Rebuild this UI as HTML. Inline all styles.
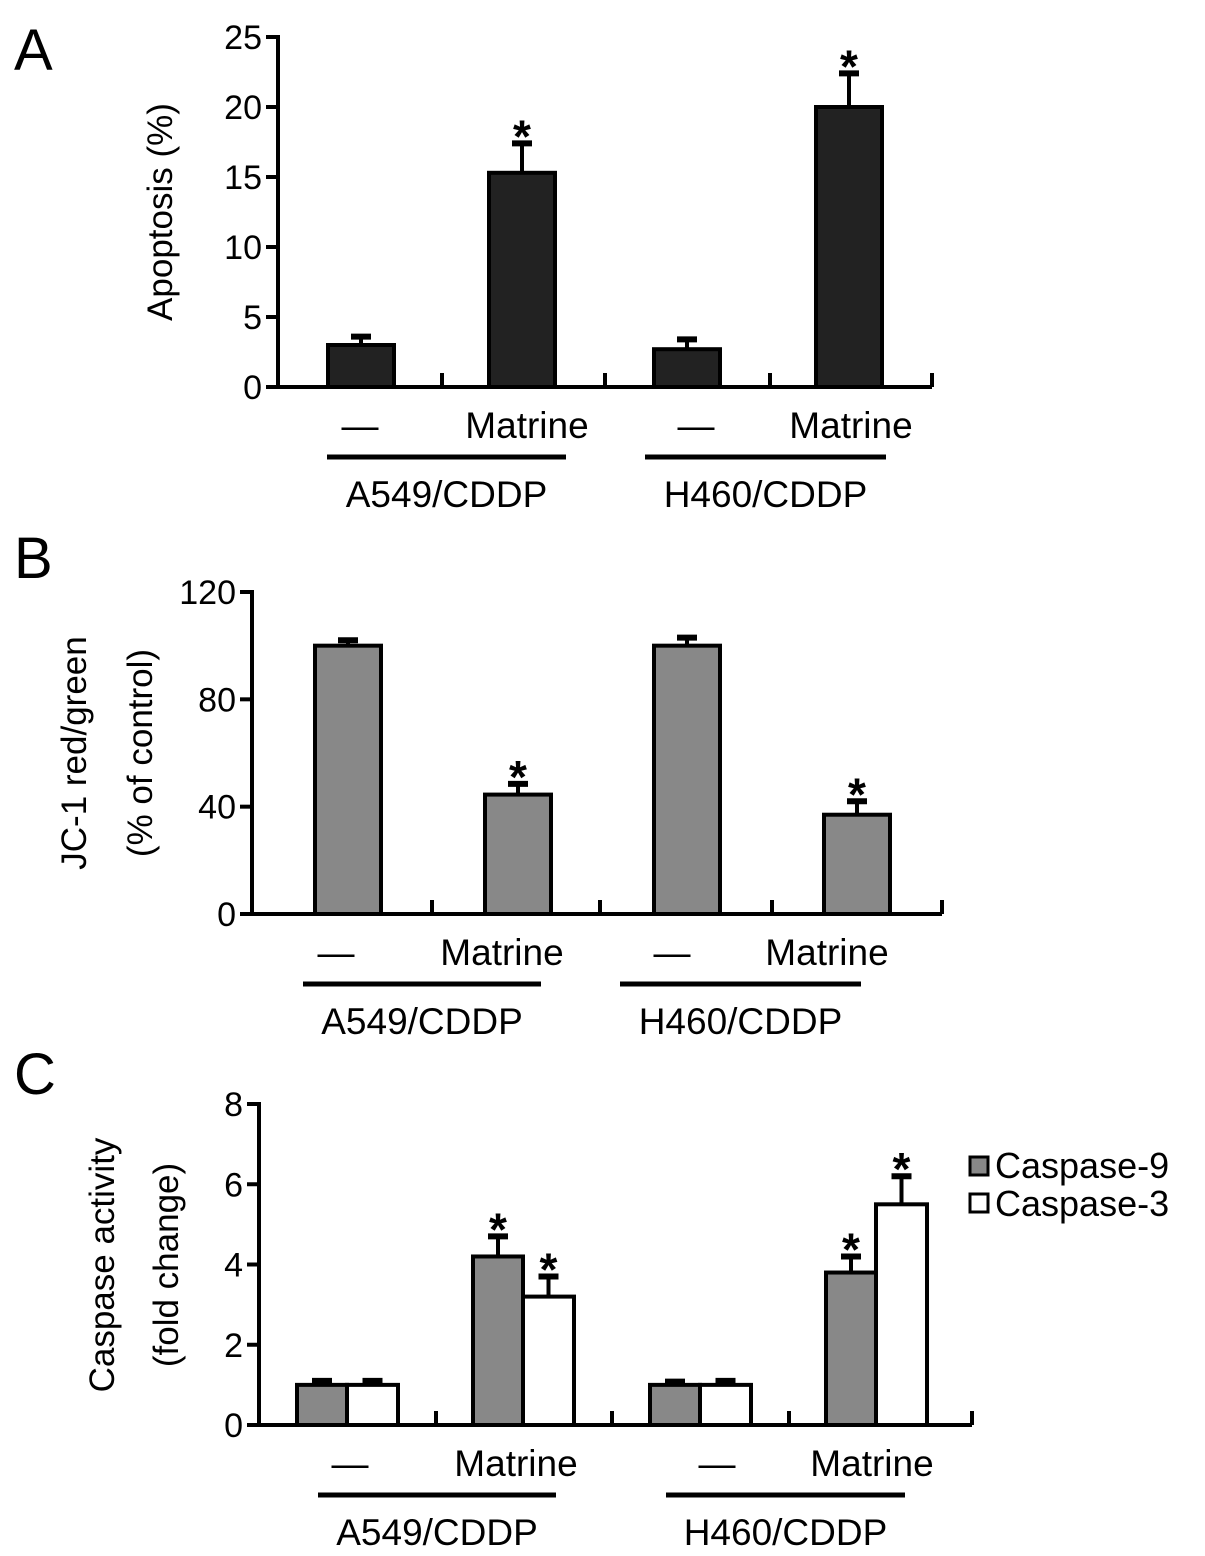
<!DOCTYPE html>
<html><head><meta charset="utf-8"><style>
body{margin:0;background:#fff}
svg{display:block;font-family:"Liberation Sans",Arial,sans-serif}
</style></head><body>
<svg id="s" width="1205" height="1556" viewBox="0 0 1205 1556">
<text x="14" y="70" font-size="58">A</text>
<text x="14" y="578" font-size="58">B</text>
<text x="14" y="1094" font-size="58">C</text>
<text transform="translate(172,212) rotate(-90)" text-anchor="middle" font-size="35">Apoptosis (%)</text>
<text transform="translate(86,753) rotate(-90)" text-anchor="middle" font-size="35">JC-1 red/green</text>
<text transform="translate(152,753) rotate(-90)" text-anchor="middle" font-size="35">(% of control)</text>
<text transform="translate(114,1265) rotate(-90)" text-anchor="middle" font-size="35">Caspase activity</text>
<text transform="translate(178,1265) rotate(-90)" text-anchor="middle" font-size="35">(fold change)</text>
<rect x="970" y="1157" width="18" height="18" fill="#888" stroke="#000" stroke-width="3"/>
<text x="995" y="1178" font-size="36">Caspase-9</text>
<rect x="970" y="1194" width="18" height="18" fill="#fff" stroke="#000" stroke-width="3"/>
<text x="995" y="1216" font-size="36">Caspase-3</text>
</svg>
<script>
const aTicks=[0,5,10,15,20,25];
const aValues=[3,15.3,2.7,20];
const aErrors=[0.6,2.1,0.7,2.4];
const aSig=[false,true,false,true];
const bTicks=[0,40,80,120];
const bValues=[100,44.5,100,37];
const bErrors=[2,4,3,5];
const bSig=[false,true,false,true];
const cTicks=[0,2,4,6,8];
const cCasp9=[1,4.2,1,3.8];
const cCasp9Err=[0.1,0.5,0.08,0.4];
const cCasp3=[1,3.2,1,5.5];
const cCasp3Err=[0.1,0.5,0.1,0.7];
const cSig9=[false,true,false,true];
const cSig3=[false,true,false,true];
const catLabels=["—","Matrine","—","Matrine"];
const groupLabels=["A549/CDDP","H460/CDDP"];

const svg=document.getElementById('s');
const NS='http://www.w3.org/2000/svg';
function mk(tag,attrs,parent){const e=document.createElementNS(NS,tag);for(const k in attrs)e.setAttribute(k,attrs[k]);(parent||svg).appendChild(e);return e;}

function panel(p){
  const g=mk('g',{});
  
  
  const y=v=>p.y0-(v-p.ticks[0])/(p.ticks[p.ticks.length-1]-p.ticks[0])*(p.y0-p.yTop);
  const ax=mk('line',{x1:p.x0,y1:y(p.ticks[p.ticks.length-1])-2,x2:p.x0,y2:p.y0+2,stroke:'#000','stroke-width':4},g);
  
  const xa=mk('line',{x1:p.x0-12,y1:p.y0,x2:p.x1,y2:p.y0,stroke:'#000','stroke-width':4},g);
  
  p.ticks.forEach(t=>{
    mk('line',{x1:p.x0-12,y1:y(t),x2:p.x0,y2:y(t),stroke:'#000','stroke-width':4},g);
    const tx=mk('text',{x:p.x0-16,y:y(t)+12,'text-anchor':'end','font-size':34},g);
    tx.textContent=t;
    
  });
  p.xTicks.forEach(xt=>mk('line',{x1:xt,y1:p.y0-14,x2:xt,y2:p.y0,stroke:'#000','stroke-width':4},g));
  p.series.forEach(s=>{
    s.values.forEach((v,i)=>{
      const bx=p.barX[i]+s.off;
      const ey=y(v+s.err[i]);
      mk('line',{x1:bx+s.w/2,y1:ey,x2:bx+s.w/2,y2:y(v),stroke:'#000','stroke-width':4},g);
      mk('line',{x1:bx+s.w/2-10,y1:ey,x2:bx+s.w/2+10,y2:ey,stroke:'#000','stroke-width':6},g);
      const r=mk('rect',{x:bx,y:y(v),width:s.w,height:p.y0-y(v),fill:s.fill,stroke:'#000','stroke-width':4},g);
      
      if(s.sig[i]){const a=mk('text',{x:bx+s.w/2,y:ey+9,'text-anchor':'middle','font-size':46,'font-weight':'bold'},g);a.textContent='*';
        }
    });
  });
  catLabels.forEach((c,i)=>{
    const t=mk('text',{x:p.catX[i],y:p.y0+51,'text-anchor':'middle','font-size':37},g);t.textContent=c;
    
  });
  groupLabels.forEach((gl,i)=>{
    const [a,b]=p.under[i];
    mk('line',{x1:a,y1:p.y0+70,x2:b,y2:p.y0+70,stroke:'#000','stroke-width':5},g);
    const t=mk('text',{x:(a+b)/2,y:p.y0+120,'text-anchor':'middle','font-size':37},g);t.textContent=gl;
    
  });
}
panel({name:'panel-a-chart',x0:278,x1:932,y0:387,yTop:37,ticks:aTicks,xTicks:[442,605,770,932],
  barX:[328,489,654,816],series:[{values:aValues,err:aErrors,sig:aSig,off:0,w:66,fill:'#222'}],
  catX:[360,527,696,851],under:[[327,566],[645,886]]});
panel({name:'panel-b-chart',x0:252,x1:942,y0:914,yTop:592,ticks:bTicks,xTicks:[432,600,772,942],
  barX:[315,485,654,824],series:[{values:bValues,err:bErrors,sig:bSig,off:0,w:66,fill:'#888'}],
  catX:[336,502,672,827],under:[[303,541],[620,861]]});
panel({name:'panel-c-chart',x0:259,x1:972,y0:1425,yTop:1104,ticks:cTicks,xTicks:[436,612,789,972],
  barX:[297,473,650,826],series:[{values:cCasp9,err:cCasp9Err,sig:cSig9,off:0,w:50,fill:'#888'},{values:cCasp3,err:cCasp3Err,sig:cSig3,off:50,w:51,fill:'#fff'}],
  catX:[350,516,717,872],under:[[318,556],[666,905]]});
</script>
</body></html>
